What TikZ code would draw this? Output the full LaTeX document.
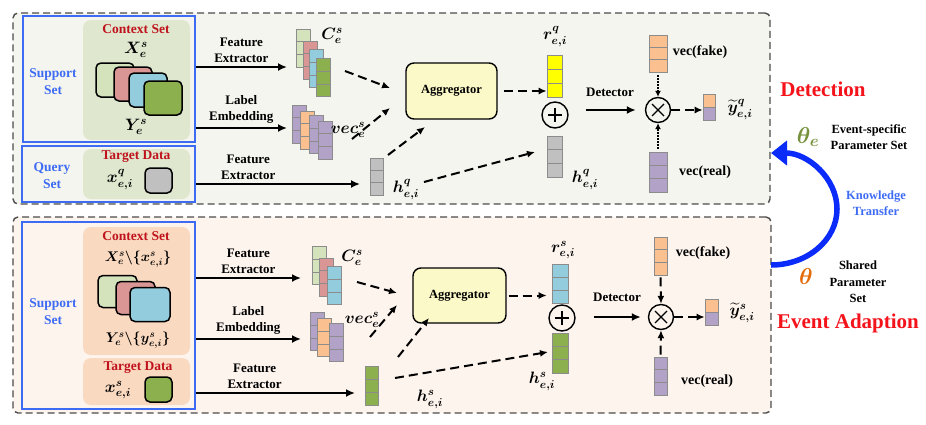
\RequirePackage{fix-cm}
\documentclass[tikz,border=0pt]{standalone}
\usepackage{amsmath}
\usepackage{bm}
\usepackage{fontspec}
\setmainfont{Liberation Serif}
\usetikzlibrary{arrows.meta,calc}

\definecolor{detbg}{HTML}{F4F5EE}
\definecolor{adabg}{HTML}{FDF4EE}
\definecolor{ctxgreen}{HTML}{DFE7CF}
\definecolor{ctxpeach}{HTML}{F9D9C0}
\definecolor{setblue}{HTML}{3E6BF4}
\definecolor{darkred}{HTML}{C0121C}
\definecolor{hotred}{HTML}{F5131B}
\definecolor{ktblue}{HTML}{0A2BFA}
\definecolor{lgreen}{HTML}{D4E3BC}
\definecolor{lpink}{HTML}{D99694}
\definecolor{lblue}{HTML}{93CDDD}
\definecolor{mgreen}{HTML}{8DB04E}
\definecolor{lgray}{HTML}{C0C0C0}
\definecolor{lorange}{HTML}{FAC08F}
\definecolor{lpurple}{HTML}{B3A2C7}
\definecolor{aggyellow}{HTML}{FCF9C8}
\definecolor{vyellow}{HTML}{FFFF00}
\definecolor{thetagreen}{HTML}{76923C}
\definecolor{thetaorange}{HTML}{E46C0A}

\tikzset{
    panel/.style={draw=black!70, line width=1.4pt, dash pattern=on 7pt off 4pt, rounded corners=5pt, inner sep=0pt},
    setbox/.style={draw=setblue, line width=1.3pt, inner sep=0pt},
    ctxbox/.style={rounded corners=8pt, inner sep=0pt},
    card/.style={draw=black, line width=1.5pt, rounded corners=5pt, fill=#1, inner sep=0pt, minimum width=38pt, minimum height=34pt},
    vecbar/.style={draw=black!45, line width=0.6pt, fill=#1, inner sep=0pt, minimum width=14pt, minimum height=38pt,
        path picture={
            \draw[black!45, line width=0.6pt]
                ($(path picture bounding box.north west)!1/3!(path picture bounding box.south west)$) -- ($(path picture bounding box.north east)!1/3!(path picture bounding box.south east)$)
                ($(path picture bounding box.north west)!2/3!(path picture bounding box.south west)$) -- ($(path picture bounding box.north east)!2/3!(path picture bounding box.south east)$);
        }},
    cellbox/.style={draw=black!45, line width=0.6pt, fill=#1, inner sep=0pt, minimum width=12pt, minimum height=13pt},
    aggbox/.style={draw=black, line width=1.4pt, rounded corners=8pt, fill=aggyellow, minimum width=92pt, minimum height=56pt, font=\fontsize{12.5}{14}\selectfont\bfseries},
    pluscirc/.style={circle, draw=black, line width=1.4pt, minimum size=26pt, inner sep=0pt,
        path picture={\draw[line width=1.6pt] ([xshift=-7pt]path picture bounding box.center) -- ([xshift=7pt]path picture bounding box.center)
            ([yshift=-7pt]path picture bounding box.center) -- ([yshift=7pt]path picture bounding box.center);}},
    timescirc/.style={circle, draw=black, line width=1.4pt, minimum size=25pt, inner sep=0pt,
        path picture={\draw[line width=1.1pt] ([shift={(-6pt,-6pt)}]path picture bounding box.center) -- ([shift={(6pt,6pt)}]path picture bounding box.center)
            ([shift={(-6pt,6pt)}]path picture bounding box.center) -- ([shift={(6pt,-6pt)}]path picture bounding box.center);}},
    setlbl/.style={text=setblue, align=center, font=\fontsize{13.5}{17}\selectfont\bfseries},
    redlbl/.style={text=darkred, font=\fontsize{13.5}{16}\selectfont\bfseries},
    mathlbl/.style={font=\fontsize{16.5}{18}\selectfont, inner sep=0pt},
    setmath/.style={font=\fontsize{14}{16}\selectfont, inner sep=0pt},
    flow/.style={line width=2pt, -{Latex[length=9pt,width=8pt]}},
    dflow/.style={line width=2pt, dash pattern=on 9pt off 5pt, -{Latex[length=8pt,width=7pt]}},
    pflow/.style={line width=1.4pt, dash pattern=on 1.5pt off 1.5pt, -{Latex[length=6pt,width=6pt]}},
    ktarrow/.style={draw=ktblue, line width=5.5pt, -{Triangle[length=16pt,width=24pt]}}
}

\begin{document}
\begin{tikzpicture}[x=1pt, y=-1pt, font=\fontsize{13}{16}\selectfont\bfseries]
        \useasboundingbox (0,0) rectangle (926,424);

        \node[panel, fill=detbg, minimum width=757pt, minimum height=191pt] (detpanel) at (391.5,108.5) {};
        \node[panel, fill=adabg, minimum width=758pt, minimum height=196pt] (adapanel) at (392,315) {};

        \node[setbox, fill=detbg, minimum width=172pt, minimum height=126pt] (supq) at (109,79) {};
        \node[setbox, fill=detbg, minimum width=173pt, minimum height=56pt] (qryq) at (108.5,174) {};
        \node[ctxbox, fill=ctxgreen, minimum width=107pt, minimum height=120pt] (ctxq) at (136.5,80) {};
        \node[ctxbox, fill=ctxgreen, minimum width=107pt, minimum height=50pt] (tgtq) at (136.5,174) {};

        \node[setbox, fill=adabg, minimum width=173pt, minimum height=187pt] (supa) at (108.5,315.5) {};
        \node[ctxbox, fill=ctxpeach, minimum width=107pt, minimum height=128pt] (ctxa) at (136.5,291) {};
        \node[ctxbox, fill=ctxpeach, minimum width=107pt, minimum height=47pt] (tgta) at (136.5,381.5) {};

        \node[setlbl] (supqlbl) at (53,82) {Support\\Set};
        \node[setlbl] (qryqlbl) at (52,176) {Query\\Set};
        \node[redlbl] (ctxqlbl) at (136,29) {Context Set};
        \node[mathlbl] (xsq) at (136,50) {$\bm{X_e^{s}}$};
        \node[mathlbl] (ysq) at (136,127) {$\bm{Y_e^{s}}$};
        \node[redlbl] (tgtqlbl) at (136,157) {Target Data};
        \node[mathlbl] (xqq) at (120,180) {$\bm{x_{e,i}^{q}}$};

        \node[setlbl] (supalbl) at (53,312) {Support\\Set};
        \node[redlbl] (ctxalbl) at (136,236) {Context Set};
        \node[setmath] (xsa) at (138,259) {$\bm{X_e^{s}\backslash\{x_{e,i}^{s}\}}$};
        \node[setmath] (ysa) at (138,340) {$\bm{Y_e^{s}\backslash\{y_{e,i}^{s}\}}$};
        \node[redlbl] (tgtalbl) at (138,368) {Target Data};
        \node[mathlbl] (xsia) at (118,390) {$\bm{x_{e,i}^{s}}$};

        \node[card=lgreen] (cardq1) at (115,80) {};
        \node[card=lpink] (cardq2) at (133,84) {};
        \node[card=lblue] (cardq3) at (148,90) {};
        \node[card=mgreen] (cardq4) at (163,98) {};
        \node[card=lgray, minimum width=27pt, minimum height=25pt] (cardq5) at (158.5,180.5) {};

        \node[card=lgreen, minimum width=39pt, minimum height=32pt] (carda1) at (117.5,291.5) {};
        \node[card=lpink, minimum width=39pt, minimum height=33pt] (carda2) at (135.5,298) {};
        \node[card=lblue, minimum width=40pt, minimum height=34pt] (carda3) at (150,304.5) {};
        \node[card=mgreen, minimum width=27pt, minimum height=25pt] (carda4) at (158.5,389.5) {};

        \node[vecbar=lgreen] (cq1) at (303,48) {};
        \node[vecbar=lpink] (cq2) at (310,60) {};
        \node[vecbar=lblue] (cq3) at (316.5,68.5) {};
        \node[vecbar=mgreen] (cq4) at (323.5,77.5) {};
        \node[vecbar=lpurple] (vq1) at (299.5,124) {};
        \node[vecbar=lorange] (vq2) at (307,130) {};
        \node[vecbar=lpurple] (vq3) at (316.5,134.5) {};
        \node[vecbar=lpurple] (vq4) at (325.5,140) {};
        \node[vecbar=lgray, minimum width=13pt, minimum height=37pt] (hq) at (376.5,176.5) {};
        \node[vecbar=vyellow, minimum width=15pt, minimum height=42pt] (rq) at (554.5,76) {};
        \node[vecbar=lgray, minimum width=15pt, minimum height=41pt] (hq2) at (554.5,156.5) {};
        \node[vecbar=lorange, minimum width=18pt, minimum height=37pt] (fakeq) at (658,53.5) {};
        \node[vecbar=lpurple, minimum width=18pt, minimum height=40pt] (realq) at (658,172) {};
        \node[cellbox=lorange] (yq1) at (709,100.5) {};
        \node[cellbox=lpurple] (yq2) at (709,113.5) {};

        \node[vecbar=lgreen] (ca1) at (319,265.5) {};
        \node[vecbar=lpink] (ca2) at (326.5,277) {};
        \node[vecbar=lblue] (ca3) at (334.5,285.5) {};
        \node[vecbar=lpurple] (va1) at (317,331.5) {};
        \node[vecbar=lorange] (va2) at (324.5,337.5) {};
        \node[vecbar=lpurple] (va3) at (336,342.5) {};
        \node[vecbar=mgreen, minimum width=13pt, minimum height=39pt] (ha) at (372,385.5) {};
        \node[vecbar=lblue, minimum width=16pt, minimum height=39pt] (ra) at (560,283.5) {};
        \node[vecbar=mgreen, minimum width=16pt, minimum height=40pt] (ha2) at (560,353) {};
        \node[vecbar=lorange, minimum width=13pt, minimum height=38pt] (fakea) at (660.5,256) {};
        \node[vecbar=lpurple, minimum width=13pt, minimum height=38pt] (reala) at (660.5,376) {};
        \node[cellbox=lorange, minimum width=13pt] (ya1) at (711.5,305.5) {};
        \node[cellbox=lpurple, minimum width=13pt] (ya2) at (711.5,318.5) {};

        \node[aggbox, minimum width=91pt] (aggq) at (451.5,91) {Aggregator};
        \node[aggbox, minimum width=93pt, minimum height=55pt] (agga) at (459.5,295.5) {Aggregator};
        \node[pluscirc] (plusq) at (555,115) {};
        \node[timescirc] (timesq) at (658,110) {};
        \node[pluscirc] (plusa) at (562,318) {};
        \node[timescirc] (timesa) at (661,317) {};

        \node[mathlbl] (cqlbl) at (332,36) {$\bm{C_e^{s}}$};
        \node[mathlbl] (vqlbl) at (348,130) {$\bm{vec_e^{s}}$};
        \node[mathlbl] (hqlbl) at (406,190) {$\bm{h_{e,i}^{q}}$};
        \node[mathlbl] (rqlbl) at (555,37) {$\bm{r_{e,i}^{q}}$};
        \node[mathlbl] (hq2lbl) at (585,180) {$\bm{h_{e,i}^{q}}$};
        \node (detq) at (610,92) {Detector};
        \node[font=\fontsize{14}{16}\selectfont\bfseries] (fakeqlbl) at (700,52) {vec(fake)};
        \node[font=\fontsize{14}{16}\selectfont\bfseries] (realqlbl) at (705,172) {vec(real)};
        \node[mathlbl] (yqlbl) at (740,110) {$\bm{\widetilde{y}_{e,i}^{q}}$};

        \node[mathlbl] (calbl) at (352,258) {$\bm{C_e^{s}}$};
        \node[mathlbl] (valbl) at (362,320) {$\bm{vec_e^{s}}$};
        \node[mathlbl] (halbl) at (430,399) {$\bm{h_{e,i}^{s}}$};
        \node[mathlbl] (ralbl) at (563,250) {$\bm{r_{e,i}^{s}}$};
        \node[mathlbl] (ha2lbl) at (542,381) {$\bm{h_{e,i}^{s}}$};
        \node (deta) at (617,297) {Detector};
        \node[font=\fontsize{14}{16}\selectfont\bfseries] (fakealbl) at (703,253) {vec(fake)};
        \node[font=\fontsize{14}{16}\selectfont\bfseries] (realalbl) at (707,381) {vec(real)};
        \node[mathlbl] (yalbl) at (742,313) {$\bm{\widetilde{y}_{e,i}^{s}}$};

        \coordinate (feq) at (287,67);
        \coordinate (leq) at (287,128);
        \coordinate (fqq) at (360,184);
        \draw[flow] (supq.east |- feq) -- (feq) node[midway, above, align=center] (feqlbl) {Feature\\Extractor};
        \draw[flow] (supq.east |- leq) -- (leq) node[midway, above, align=center] (leqlbl) {Label\\Embedding};
        \draw[flow] (qryq.east |- fqq) -- (fqq) node[pos=0.32, above, align=center] (fqqlbl) {Feature\\Extractor};

        \coordinate (fea) at (301,278);
        \coordinate (lea) at (301,339);
        \coordinate (fqa) at (355,393);
        \draw[flow] (supa.east |- fea) -- (fea) node[midway, above, align=center] (fealbl) {Feature\\Extractor};
        \draw[flow] (supa.east |- lea) -- (lea) node[midway, above, align=center] (lealbl) {Label\\Embedding};
        \draw[flow] (supa.east |- fqa) -- (fqa) node[pos=0.37, above, align=center] (fqalbl) {Feature\\Extractor};

        \coordinate (cqout) at (345,71);
        \coordinate (vqout) at (352,139);
        \coordinate (hqout) at (388,155);
        \coordinate (hqlow) at (424,182);
        \coordinate (aggqin1) at (390,88);
        \coordinate (aggqin2) at (390,108);
        \coordinate (aggqin3) at (425,127);
        \coordinate (hq2in) at (535,152);
        \draw[dflow] (cqout) -- (aggqin1);
        \draw[dflow] (vqout) -- (aggqin2);
        \draw[dflow] (hqout) -- (aggqin3);
        \draw[dflow] (hqlow) -- (hq2in);
        \draw[dflow, shorten <=6pt] (aggq.east) -- (rq.west |- aggq.east);
        \draw[flow, shorten <=17pt, shorten >=9pt] (plusq.east |- timesq) -- (timesq);
        \draw[pflow, shorten <=3pt] (fakeq.south) -- (timesq.north);
        \draw[pflow, shorten <=3pt] (realq.north) -- (timesq.south);
        \draw[dflow] (timesq.east) -- (yq1.west |- timesq.east);

        \coordinate (caout) at (357,282);
        \coordinate (vaout) at (370,337);
        \coordinate (haout) at (398,357);
        \coordinate (halow) at (395,378);
        \coordinate (aggain1) at (397,293);
        \coordinate (aggain2) at (397,305);
        \coordinate (aggain3) at (429,318);
        \coordinate (ha2in) at (548,352);
        \draw[dflow] (caout) -- (aggain1);
        \draw[dflow] (vaout) -- (aggain2);
        \draw[dflow] (haout) -- (aggain3);
        \draw[dflow] (halow) -- (ha2in);
        \draw[dflow, shorten <=2pt, shorten >=5pt] (agga.east) -- (ra.west |- agga.east);
        \draw[flow, shorten <=18pt, shorten >=7pt] (plusa.east |- timesa) -- (timesa);
        \draw[dflow, shorten <=2pt] (fakea.south) -- (timesa.north);
        \draw[dflow, shorten <=2pt] (reala.north) -- (timesa.south);
        \draw[dflow] (timesa.east) -- (ya1.west |- timesa.east);

        \node[font=\fontsize{21}{24}\selectfont\bfseries, text=hotred] (detlbl) at (823,89) {Detection};
        \node[font=\fontsize{23}{24}\selectfont, text=thetagreen] (thetae) at (808,137) {$\bm{\theta_e}$};
        \node[align=center, font=\fontsize{12.5}{16}\selectfont\bfseries] (esplbl) at (869,137) {Event-specific\\Parameter Set};
        \node[align=center, text=setblue, font=\fontsize{12.5}{16}\selectfont\bfseries] (ktlbl) at (876,203.5) {Knowledge\\Transfer};
        \node[font=\fontsize{23}{24}\selectfont, text=thetaorange] (theta) at (806,277) {$\bm{\theta}$};
        \node[align=center, font=\fontsize{12.5}{16.5}\selectfont\bfseries] (shlbl) at (858,282) {Shared\\Parameter\\Set};
        \node[font=\fontsize{21}{24}\selectfont\bfseries, text=hotred] (adalbl) at (848,323) {Event Adaption};

        \coordinate (ktfrom) at (771,265);
        \draw[ktarrow] (ktfrom) arc[start angle=90, end angle=-90, x radius=66, y radius=56];
    \end{tikzpicture}
\end{document}
